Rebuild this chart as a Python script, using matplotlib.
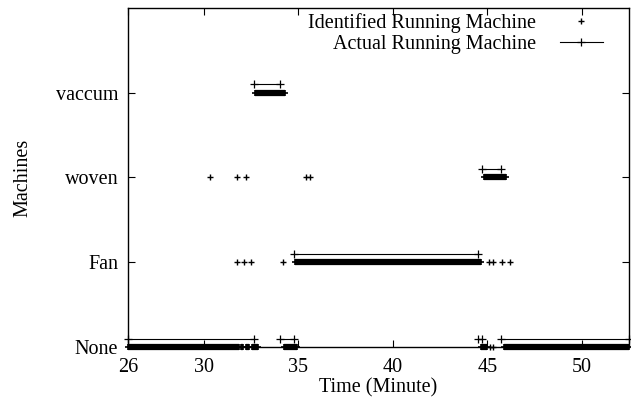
import numpy as np
import matplotlib.pyplot as plt

plt.rcParams['font.family'] = ['Liberation Serif', 'DejaVu Serif']
plt.rcParams['font.size'] = 14.5

# -------------------------------
# data (time in minutes)
# -------------------------------
machines = ['None', 'Fan', 'woven', 'vaccum']
xticks = [26, 30, 35, 40, 45, 50]

# identified machine: runs of consecutive detections (start, end, machine index)
ident_start = [26.0, 31.95, 32.25, 32.55, 34.27, 44.65, 45.86,
               34.85, 44.83, 32.73]
ident_end = [31.85, 32.10, 32.40, 32.85, 34.95, 45.00, 52.5,
             44.65, 45.98, 34.28]
ident_level = [0, 0, 0, 0, 0, 0, 0,
               1, 2, 3]

# identified machine: single detections
single_time = [45.15, 45.28,
               31.78, 32.15, 32.52, 34.2, 45.1, 45.3, 45.8, 46.2,
               30.35, 31.76, 32.24, 35.43, 35.64]
single_level = [0, 0,
                1, 1, 1, 1, 1, 1, 1, 1,
                2, 2, 2, 2, 2]

# actual running machine: segments
actual_start = [26.0, 32.66, 34.02, 34.78, 44.50, 44.70, 45.75]
actual_end = [32.66, 34.02, 34.78, 44.50, 44.70, 45.75, 52.5]
actual_level = [0, 3, 0, 1, 0, 2, 0]

offset = 0.1   # actual line drawn slightly above the level

# -------------------------------
# plot
# -------------------------------
fig = plt.figure(figsize=(6.31, 4.05), dpi=100)
ax = fig.add_axes([0.203, 0.143, 0.794, 0.838])

ax.plot(single_time, single_level, '+', color='k', ms=5, mew=1,
        clip_on=False, label='Identified Running Machine')
for s, e, lv in zip(ident_start, ident_end, ident_level):
    ax.plot([s, e], [lv, lv], '-+', color='k', lw=4.5, ms=5, mew=1.2,
            solid_capstyle='butt', clip_on=False)

for i, (s, e, lv) in enumerate(zip(actual_start, actual_end, actual_level)):
    ax.plot([s, e], [lv + offset, lv + offset], '-+', color='k', lw=0.8,
            ms=6, mew=0.9, clip_on=False,
            label='Actual Running Machine' if i == 0 else None)

ax.set_xlim(26, 52.5)
ax.set_ylim(0, 4)
ax.set_xticks(xticks)
ax.set_yticks(range(len(machines)))
ax.set_yticklabels(machines)
ax.tick_params(axis='x', direction='in', top=True, length=5, width=0.8, pad=8)
ax.tick_params(axis='y', direction='in', right=True, length=5, width=0.8, pad=7)
for sp in ax.spines.values():
    sp.set_linewidth(1.0)

ax.set_xlabel('Time (Minute)', labelpad=1)
ax.set_ylabel('Machines', labelpad=17)

ax.legend(loc='upper right', bbox_to_anchor=(0.955, 0.995), frameon=False,
          markerfirst=False, numpoints=1, handlelength=2.1, handletextpad=1.2,
          labelspacing=0.1, borderaxespad=0, borderpad=0.2)

fig.savefig('out.png', dpi=100)
